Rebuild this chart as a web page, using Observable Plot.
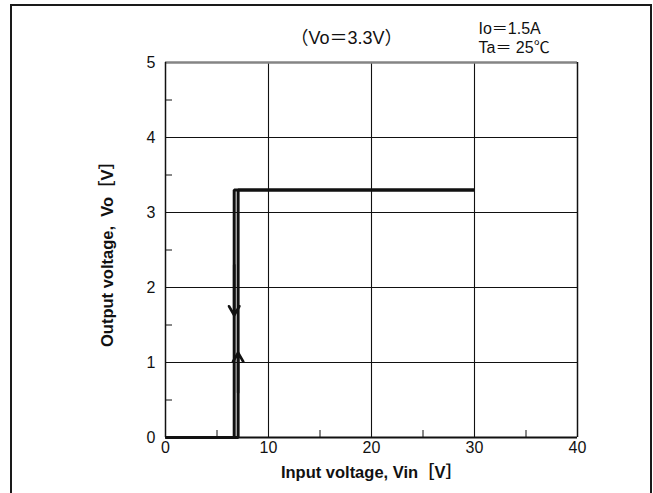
<!DOCTYPE html>
<html>
<head>
<meta charset="utf-8">
<script src="https://cdn.jsdelivr.net/npm/d3@7"></script>
<script src="https://cdn.jsdelivr.net/npm/@observablehq/plot@0.6"></script>
<style>
  html, body { margin: 0; padding: 0; background: #fff; overflow: hidden; }
  #wrap { position: relative; width: 653px; height: 493px; overflow: hidden; }
  #wrap svg { display: block; }
  #border {
    position: absolute; left: 10px; top: 4px; width: 642px; height: 560px;
    box-sizing: border-box; border: 2px solid #1a1a1a; border-bottom: none;
    pointer-events: none;
  }
</style>
</head>
<body>
<div id="wrap"></div>
<script>
// Axis ticks
const xTicks = [0, 10, 20, 30, 40];
const yTicks = [0, 1, 2, 3, 4, 5];
const xMinor = [5, 15, 25, 35];
const yMinor = [0.5, 1.5, 2.5, 3.5, 4.5];

// Input voltage rising: output turns on at about 7.05 V
const riseVin = [0, 7.05, 7.05, 30];
const riseVo  = [0, 0, 3.3, 3.3];

// Input voltage falling: output turns off at about 6.67 V
const fallVin = [30, 6.67, 6.67, 0];
const fallVo  = [3.3, 3.3, 0, 0];

// Direction markers on the two vertical edges (tail -> tip)
const arrowVin  = [6.67, 7.05];
const arrowFrom = [2.30, 0.60];
const arrowTo   = [1.63, 1.13];

const titleText = "（Vo＝3.3V）";
const condText  = ["Io＝1.5A", "Ta＝ 25℃"];
const xLabel = "Input voltage, Vin［V］";
const yLabel = "Output voltage,  Vo［V］";

const font = "'Liberation Sans', Arial, 'Noto Sans CJK JP', sans-serif";
const ink = "#111";

const rise = riseVin.map((v, i) => ({vin: v, vo: riseVo[i]}));
const fall = fallVin.map((v, i) => ({vin: v, vo: fallVo[i]}));
const arrows = arrowVin.map((v, i) => ({vin: v, from: arrowFrom[i], to: arrowTo[i]}));

const chart = Plot.plot({
  width: 653,
  height: 493,
  marginLeft: 165,
  marginRight: 76,
  marginTop: 62,
  marginBottom: 56,
  style: {fontFamily: font, fontSize: "16px", color: ink, background: "#fff"},
  x: {domain: [0, 40]},
  y: {domain: [0, 5]},
  marks: [
    // grid
    Plot.ruleX(xTicks.slice(1, -1), {stroke: ink, strokeWidth: 1.1}),
    Plot.ruleY(yTicks.slice(1, -1), {stroke: ink, strokeWidth: 1.1}),
    // minor ticks pointing into the plot
    Plot.tickY(yMinor, {y: d => d, insetRight: 405, stroke: ink, strokeWidth: 1}),
    Plot.tickX(xMinor, {x: d => d, insetTop: 368, stroke: ink, strokeWidth: 1}),
    // frame
    Plot.ruleY([5], {stroke: "#858585", strokeWidth: 2.5}),
    Plot.ruleX([40], {stroke: ink, strokeWidth: 1.5}),
    Plot.ruleX([0], {stroke: ink, strokeWidth: 1.5}),
    Plot.ruleY([0], {stroke: ink, strokeWidth: 2}),
    // tick labels
    Plot.axisX(xTicks, {tickSize: 0, tickPadding: 4, label: null, fontSize: 16, tickFormat: "d"}),
    Plot.axisY(yTicks, {tickSize: 0, tickPadding: 10, label: null, fontSize: 16, tickFormat: "d"}),
    // hysteresis traces
    Plot.line(rise, {x: "vin", y: "vo", stroke: ink, strokeWidth: 3, strokeLinejoin: "miter", strokeLinecap: "butt"}),
    Plot.line(fall, {x: "vin", y: "vo", stroke: ink, strokeWidth: 3, strokeLinejoin: "miter", strokeLinecap: "butt"}),
    Plot.arrow(arrows, {x: "vin", y1: "from", y2: "to", stroke: ink, strokeWidth: 2.6, headLength: 6, headAngle: 60}),
    // annotations
    Plot.text([titleText], {text: d => d, frameAnchor: "top", textAnchor: "middle", lineAnchor: "middle",
      dx: -25, dy: -24, fontSize: 18, fill: ink}),
    Plot.text([condText[0]], {text: d => d, frameAnchor: "top-left", textAnchor: "start", lineAnchor: "middle",
      dx: 313, dy: -34, fontSize: 16, fill: ink}),
    Plot.text([condText[1]], {text: d => d, frameAnchor: "top-left", textAnchor: "start", lineAnchor: "middle",
      dx: 313, dy: -15, fontSize: 16, fill: ink}),
    Plot.text([xLabel], {text: d => d, frameAnchor: "bottom", textAnchor: "middle", lineAnchor: "middle",
      dy: 35, fontSize: 16.5, fontWeight: "bold", fill: ink}),
    Plot.text([yLabel], {text: d => d, frameAnchor: "left", textAnchor: "middle", lineAnchor: "middle",
      dx: -58, rotate: -90, fontSize: 16.5, fontWeight: "bold", fill: ink})
  ]
});

const wrap = document.getElementById("wrap");
wrap.appendChild(chart);
const border = document.createElement("div");
border.id = "border";
wrap.appendChild(border);
</script>
</body>
</html>
